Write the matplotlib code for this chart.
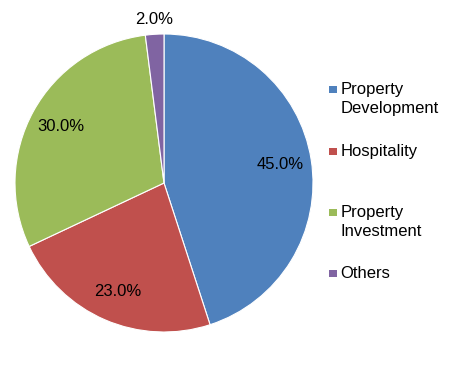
import matplotlib.pyplot as plt
import matplotlib.patches as mpatches
import numpy as np

# data
labels = ['Property\nDevelopment', 'Hospitality', 'Property\nInvestment', 'Others']
shares = [45.0, 23.0, 30.0, 2.0]
colors = ['#4F81BD', '#C0504D', '#9BBB59', '#8064A2']

plt.rcParams['font.family'] = ['Liberation Sans', 'DejaVu Sans']

W, H = 454, 369
fig = plt.figure(figsize=(W / 100, H / 100), dpi=100, facecolor='white')

# pie centre (164, 183), radius 149 px
cx, cy, r = 164, 183, 149
ax = fig.add_axes([(cx - r) / W, 1 - (cy + r) / H, 2 * r / W, 2 * r / H])

wedges, texts, autotexts = ax.pie(shares, colors=colors, startangle=90, counterclock=False,
                                  autopct='%.1f%%', pctdistance=0.79,
                                  wedgeprops=dict(edgecolor='white', linewidth=0.8),
                                  textprops=dict(fontsize=12, color='black'))

# small slice label sits outside
theta = np.deg2rad((wedges[-1].theta1 + wedges[-1].theta2) / 2)
autotexts[-1].set_position((1.10 * np.cos(theta), 1.10 * np.sin(theta)))

ax.set_xlim(-1, 1)
ax.set_ylim(-1, 1)
ax.axis('off')

# legend drawn by hand to keep the spacing of the original
baselines = [94, 156, 217, 278]
line_gap = 19
for lab, col, y in zip(labels, colors, baselines):
    fig.patches.append(mpatches.Rectangle((329 / W, 1 - (y - 1) / H), 7.5 / W, 7.5 / H,
                                          transform=fig.transFigure, facecolor=col,
                                          edgecolor='none'))
    for i, part in enumerate(lab.split('\n')):
        fig.text(340.5 / W, 1 - (y + i * line_gap) / H, part, fontsize=12,
                 va='baseline', ha='left')

fig.savefig('out.png', dpi=100)
